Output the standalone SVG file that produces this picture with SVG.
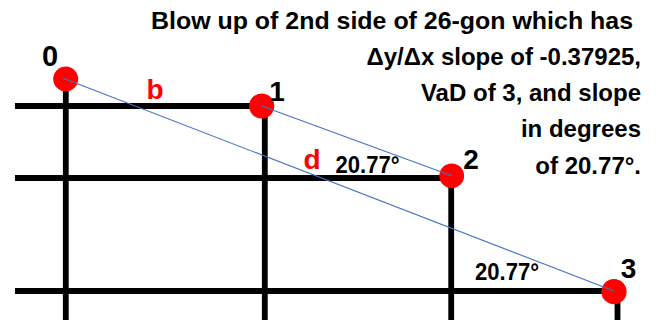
<svg xmlns="http://www.w3.org/2000/svg" width="660" height="320" viewBox="0 0 660 320">
<style>
.grid{stroke:#000;stroke-width:5.8;fill:none;stroke-linecap:butt}
.conn{stroke:#4472C4;stroke-width:1.1;fill:none}
.dot{fill:#FF0000}
.num{font-family:"Liberation Sans",Arial,sans-serif;font-weight:bold;font-size:28px;fill:#000}
.red{font-family:"Liberation Sans",Arial,sans-serif;font-weight:bold;font-size:28px;fill:#FF0000}
.ang{font-family:"Liberation Sans",Arial,sans-serif;font-weight:bold;font-size:23px;fill:#000}
.title{font-family:"Liberation Sans",Arial,sans-serif;font-weight:bold;font-size:24px;fill:#000}
</style>
<rect width="660" height="320" fill="#fff"/>
<g id="grid">
<line class="grid" x1="15" y1="106" x2="262" y2="106"/>
<line class="grid" x1="15" y1="178" x2="452" y2="178"/>
<line class="grid" x1="15" y1="291" x2="614" y2="291"/>
<line class="grid" x1="65.8" y1="79" x2="65.8" y2="320"/>
<line class="grid" x1="264.8" y1="106" x2="264.8" y2="320"/>
<line class="grid" x1="451.2" y1="176" x2="451.2" y2="320"/>
<line class="grid" x1="617.5" y1="292" x2="617.5" y2="320"/>
</g>
<g id="node0"><circle class="dot" cx="65.7" cy="79" r="12.5"/><text class="num" x="50" y="65.5" text-anchor="middle" style="font-size:29px">0</text></g>
<g id="node1"><circle class="dot" cx="261.7" cy="106" r="12.6"/><text class="num" x="277" y="100.7" text-anchor="middle">1</text></g>
<g id="node2"><circle class="dot" cx="451.7" cy="175.8" r="12.4"/><text class="num" x="471" y="168.5" text-anchor="middle">2</text></g>
<g id="node3"><circle class="dot" cx="614" cy="291.7" r="12.6"/><text class="num" x="628.5" y="277.5" text-anchor="middle">3</text></g>
<g id="connectors">
<line class="conn" x1="63.3" y1="78.3" x2="614" y2="291"/>
<line class="conn" x1="261.7" y1="106" x2="451.7" y2="175.7"/>
</g>
<text class="red" x="155" y="99" text-anchor="middle">b</text>
<text class="red" x="312" y="168.5" text-anchor="middle">d</text>
<text class="ang" x="335.5" y="172.5" textLength="64" lengthAdjust="spacingAndGlyphs">20.77°</text>
<text class="ang" x="475" y="280" textLength="64" lengthAdjust="spacingAndGlyphs">20.77°</text>
<g id="title">
<text class="title" x="151" y="28.5" textLength="482" lengthAdjust="spacingAndGlyphs">Blow up of 2nd side of 26-gon which has</text>
<text class="title" x="641" y="64.6" text-anchor="end">Δy/Δx slope of -0.37925,</text>
<text class="title" x="641" y="100.9" text-anchor="end">VaD of 3, and slope</text>
<text class="title" x="641" y="137.2" text-anchor="end">in degrees</text>
<text class="title" x="641" y="173.5" text-anchor="end">of 20.77°.</text>
</g>
</svg>
